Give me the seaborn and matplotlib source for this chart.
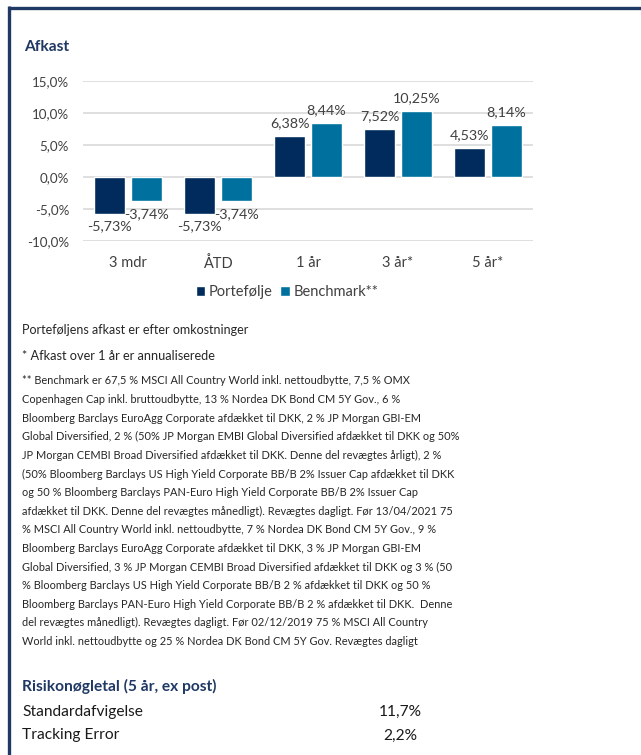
import matplotlib
matplotlib.use("Agg")
import matplotlib.pyplot as plt
import seaborn as sns
import pandas as pd
from matplotlib.lines import Line2D

categories = ["3 mdr", "ÅTD", "1 år", "3 år*", "5 år*"]
portefolje = [-5.73, -5.73, 6.38, 7.52, 4.53]
benchmark = [-3.74, -3.74, 8.44, 10.25, 8.14]
series_names = ["Portefølje", "Benchmark**"]
y_ticks = [-10, -5, 0, 5, 10, 15]

title = "Afkast"
note1 = "Porteføljens afkast er efter omkostninger"
note2 = "* Afkast over 1 år er annualiserede"
note3_lines = [
    "** Benchmark er 67,5 % MSCI All Country World inkl. nettoudbytte, 7,5 % OMX",
    "Copenhagen Cap inkl. bruttoudbytte, 13 % Nordea DK Bond CM 5Y Gov., 6 %",
    "Bloomberg Barclays EuroAgg Corporate afdækket til DKK, 2 % JP Morgan GBI-EM",
    "Global Diversified, 2 % (50% JP Morgan EMBI Global Diversified afdækket til DKK og 50%",
    "JP Morgan CEMBI Broad Diversified afdækket til DKK. Denne del revægtes årligt), 2 %",
    "(50% Bloomberg Barclays US High Yield Corporate BB/B 2% Issuer Cap afdækket til DKK",
    "og 50 % Bloomberg Barclays PAN-Euro High Yield Corporate BB/B 2% Issuer Cap",
    "afdækket til DKK. Denne del revægtes månedligt). Revægtes dagligt. Før 13/04/2021 75",
    "% MSCI All Country World inkl. nettoudbytte, 7 % Nordea DK Bond CM 5Y Gov., 9 %",
    "Bloomberg Barclays EuroAgg Corporate afdækket til DKK, 3 % JP Morgan GBI-EM",
    "Global Diversified, 3 % JP Morgan CEMBI Broad Diversified afdækket til DKK og 3 % (50",
    "% Bloomberg Barclays US High Yield Corporate BB/B 2 % afdækket til DKK og 50 %",
    "Bloomberg Barclays PAN-Euro High Yield Corporate BB/B 2 % afdækket til DKK.  Denne",
    "del revægtes månedligt). Revægtes dagligt. Før 02/12/2019 75 % MSCI All Country",
    "World inkl. nettoudbytte og 25 % Nordea DK Bond CM 5Y Gov. Revægtes dagligt",
]
risk_title = "Risikonøgletal (5 år, ex post)"
risk_names = ["Standardafvigelse", "Tracking Error"]
risk_values = ["11,7%", "2,2%"]

NAVY = "#1F3864"
C_PORT = "#002B5C"
C_BENCH = "#00709E"
TXT = "#404040"
FONT = ["Lato", "DejaVu Sans"]

sns.set_theme(style="white")
plt.rcParams["font.family"] = FONT

W, H = 641, 755
fig = plt.figure(figsize=(W / 100, H / 100), dpi=100)
fig.patch.set_facecolor("white")

def fx(px):
    return px / W

def fy(py):
    return 1 - py / H

# frame (top + left border)
fig.add_artist(Line2D([fx(8.5), 1.0], [fy(7.5), fy(7.5)], color=NAVY, lw=2.4, solid_capstyle="butt"))
fig.add_artist(Line2D([fx(8.5), fx(8.5)], [fy(6.3), 0.0], color=NAVY, lw=2.4, solid_capstyle="butt"))

ax = fig.add_axes([fx(83), fy(241), fx(533) - fx(83), fy(81) - fy(241)])

df = pd.DataFrame({
    "Periode": categories * 2,
    "Serie": [series_names[0]] * len(categories) + [series_names[1]] * len(categories),
    "Afkast": portefolje + benchmark,
})
sns.barplot(data=df, x="Periode", y="Afkast", hue="Serie", order=categories,
            hue_order=series_names, palette=[C_PORT, C_BENCH], width=0.82, gap=0.17,
            saturation=1, ax=ax, legend=True)

for cont in ax.containers:
    vals = [b.get_height() for b in cont]
    ax.bar_label(cont, labels=[f"{v:.2f}%".replace(".", ",") for v in vals],
                 padding=5, fontsize=10.3, color=TXT)

ax.set_ylim(-10, 15)
ax.set_xlim(-0.5, len(categories) - 0.5)
ax.set_yticks(y_ticks)
ax.set_yticklabels([f"{t:.1f}%".replace(".", ",") for t in y_ticks])
ax.grid(axis="y", color="#D9D9D9", lw=1.2)
ax.set_axisbelow(True)
for s in ax.spines.values():
    s.set_visible(False)
ax.tick_params(axis="both", length=0, labelcolor=TXT)
ax.tick_params(axis="y", pad=10, labelsize=9.6)
ax.tick_params(axis="x", pad=11, labelsize=10.5)
ax.set_xlabel("")
ax.set_ylabel("")

handles, labels = ax.get_legend_handles_labels()
ax.legend(handles, labels, loc="center", bbox_to_anchor=(fx(287), fy(292)),
          bbox_transform=fig.transFigure, ncol=2, frameon=False, fontsize=10.5,
          handlelength=0.65, handleheight=0.65, handletextpad=0.25, columnspacing=0.5,
          labelcolor=TXT)

fig.text(fx(24), fy(47), title, fontsize=11.2, fontweight="bold", color=NAVY, va="center", ha="left")

fig.text(fx(22), fy(330), note1, fontsize=9.0, color="#262626", va="center", ha="left")
fig.text(fx(22), fy(356), note2, fontsize=9.2, color="#262626", va="center", ha="left")
for i, line in enumerate(note3_lines):
    fig.text(fx(22), fy(381 + i * 18.6), line, fontsize=7.95, color="#262626", va="center", ha="left")

fig.text(fx(22), fy(686), risk_title, fontsize=11.2, fontweight="bold", color=NAVY, va="center", ha="left")
for i, (n, v) in enumerate(zip(risk_names, risk_values)):
    yy = fy(712 + i * 23.5)
    fig.text(fx(22), yy, n, fontsize=11.2, color="#1a1a1a", va="center", ha="left")
    fig.text(fx(400), yy, v, fontsize=11.2, color="#1a1a1a", va="center", ha="center")

fig.savefig("out.png", dpi=100, facecolor="white")
